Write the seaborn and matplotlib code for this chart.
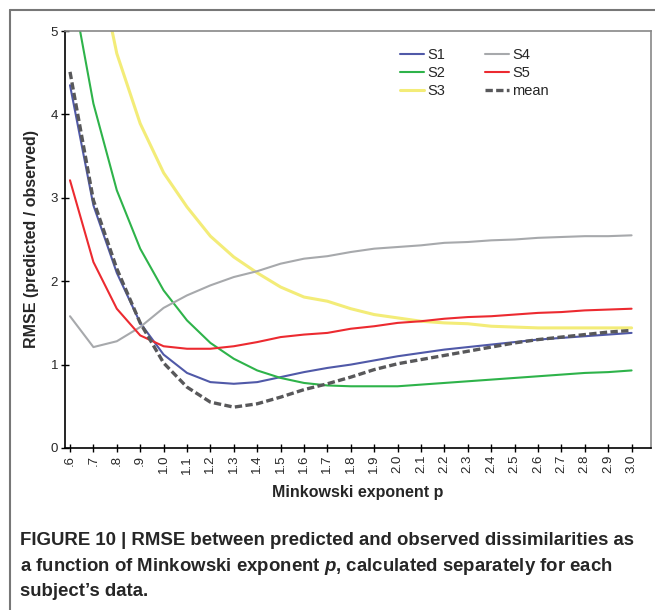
import matplotlib
matplotlib.use("Agg")
import matplotlib.pyplot as plt
import numpy as np
import seaborn as sns

sns.set_style("ticks")
plt.rcParams['font.family'] = ['Liberation Sans', 'DejaVu Sans']
plt.rcParams['mathtext.fontset'] = 'custom'
plt.rcParams['mathtext.it'] = 'Liberation Sans:italic:bold'

p = [0.6, 0.7, 0.8, 0.9, 1.0, 1.1, 1.2, 1.3, 1.4, 1.5, 1.6, 1.7, 1.8,
     1.9, 2.0, 2.1, 2.2, 2.3, 2.4, 2.5, 2.6, 2.7, 2.8, 2.9, 3.0]
tick_labels = ['.6', '.7', '.8', '.9', '1.0', '1.1', '1.2', '1.3', '1.4', '1.5',
               '1.6', '1.7', '1.8', '1.9', '2.0', '2.1', '2.2', '2.3', '2.4',
               '2.5', '2.6', '2.7', '2.8', '2.9', '3.0']

s1 = [4.35, 2.91, 2.10, 1.50, 1.12, 0.90, 0.79, 0.77, 0.79, 0.85, 0.91, 0.96, 1.00,
      1.05, 1.10, 1.14, 1.18, 1.21, 1.24, 1.27, 1.30, 1.32, 1.34, 1.36, 1.38]
s2 = [5.66, 4.13, 3.09, 2.39, 1.89, 1.53, 1.26, 1.07, 0.93, 0.84, 0.78, 0.75, 0.74,
      0.74, 0.74, 0.76, 0.78, 0.80, 0.82, 0.84, 0.86, 0.88, 0.90, 0.91, 0.93]
s3 = [7.60, 6.08, 4.73, 3.89, 3.30, 2.89, 2.54, 2.29, 2.10, 1.93, 1.81, 1.76, 1.67,
      1.60, 1.56, 1.52, 1.50, 1.49, 1.46, 1.45, 1.44, 1.44, 1.44, 1.44, 1.44]
s4 = [1.58, 1.21, 1.28, 1.45, 1.68, 1.83, 1.95, 2.05, 2.12, 2.21, 2.27, 2.30, 2.35,
      2.39, 2.41, 2.43, 2.46, 2.47, 2.49, 2.50, 2.52, 2.53, 2.54, 2.54, 2.55]
s5 = [3.21, 2.23, 1.67, 1.35, 1.22, 1.19, 1.19, 1.22, 1.27, 1.33, 1.36, 1.38, 1.43,
      1.46, 1.50, 1.52, 1.55, 1.57, 1.58, 1.60, 1.62, 1.63, 1.65, 1.66, 1.67]
mean = [4.51, 2.97, 2.15, 1.50, 1.02, 0.73, 0.55, 0.49, 0.53, 0.61, 0.70, 0.77, 0.85,
        0.94, 1.01, 1.06, 1.11, 1.16, 1.21, 1.26, 1.30, 1.33, 1.36, 1.39, 1.41]

series = [('S1', s1, '#5059a8', 1.5, '-'),
          ('S2', s2, '#2eb34a', 1.5, '-'),
          ('S3', s3, '#f3ec78', 2.2, '-'),
          ('S4', s4, '#a7a9ac', 1.5, '-'),
          ('S5', s5, '#ec2a30', 1.5, '-'),
          ('mean', mean, '#58585a', 2.4, (0, (2.2, 1.0)))]

fig = plt.figure(figsize=(6.55, 6.1), dpi=100)
ax = fig.add_axes([65 / 655, 1 - 448 / 610, (651 - 65) / 655, (448 - 31) / 610])

for name, vals, col, lw, ls in series:
    sns.lineplot(x=p, y=vals, color=col, lw=lw, linestyle=ls, label=name, ax=ax)

ax.set_xlim(0.5786, 3.083)
ax.set_ylim(0, 5)
ax.set_xticks(p)
ax.set_xticklabels(tick_labels, rotation=90, fontsize=9.5)
ax.set_yticks([0, 1, 2, 3, 4, 5])
ax.set_yticklabels(['0', '1', '2', '3', '4', '5'], fontsize=9.5)
ax.tick_params(axis='both', direction='inout', length=6, width=1, color='black', pad=2)

for side in ['left', 'bottom']:
    ax.spines[side].set_color('black')
    ax.spines[side].set_linewidth(1.2)
for side in ['top', 'right']:
    ax.spines[side].set_visible(True)
    ax.spines[side].set_color('#888888')
    ax.spines[side].set_linewidth(1.2)

ax.set_xlabel('Minkowski exponent p', fontsize=11.5, fontweight='bold', labelpad=8)
ax.set_ylabel('RMSE (predicted / observed)', fontsize=11.5, fontweight='bold', labelpad=8)

leg = ax.legend(ncol=2, frameon=False, fontsize=10.5, loc='upper left',
                bbox_to_anchor=(0.571, 0.96), borderaxespad=0, borderpad=0,
                handlelength=1.65, handletextpad=0.25,
                columnspacing=2.7, labelspacing=0.3)

# outer frame of the figure panel
fig.add_artist(plt.Line2D([10 / 655, 1.0], [1 - 10 / 610, 1 - 10 / 610],
                          color='#777777', lw=1.5, transform=fig.transFigure))
fig.add_artist(plt.Line2D([10 / 655, 10 / 655], [0.0, 1 - 10 / 610],
                          color='#777777', lw=1.5, transform=fig.transFigure))

caption = ("FIGURE 10 | RMSE between predicted and observed dissimilarities as\n"
           "a function of Minkowski exponent $\\mathit{p}$, calculated separately for each\n"
           "subject\u2019s data.")
fig.text(20 / 655, 1 - 532 / 610, caption, fontsize=13.4, fontweight='bold',
         va='top', ha='left', linespacing=1.45)

fig.savefig('out.png', dpi=100)
